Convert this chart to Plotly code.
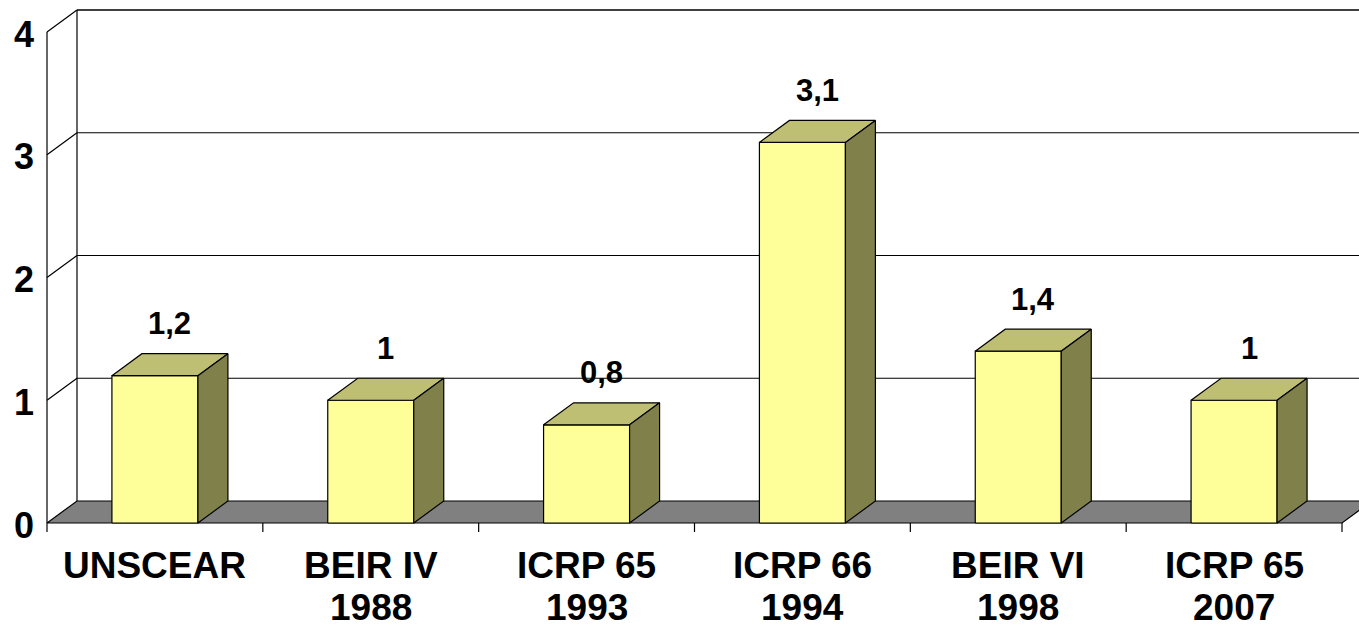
import plotly.graph_objects as go

# Chart data
categories = ["UNSCEAR", "BEIR IV<br>1988", "ICRP 65<br>1993", "ICRP 66<br>1994", "BEIR VI<br>1998", "ICRP 65<br>2007"]
values = [1.2, 1.0, 0.8, 3.1, 1.4, 1.0]
value_labels = ["1,2", "1", "0,8", "3,1", "1,4", "1"]
y_ticks = [0, 1, 2, 3, 4]

# Layout geometry (pixels) used to build the pseudo-3D frame
W, H = 1359, 630
X0_PX, X6_PX = 47, 1342          # front floor edge, left/right
Y0_PX, Y4_PX = 523, 32           # front value 0 / value 4
n = len(categories)
px_x = (X6_PX - X0_PX) / n
px_y = (Y0_PX - Y4_PX) / 4
x_range = [-X0_PX / px_x, (W - X0_PX) / px_x]
y_range = [-(H - Y0_PX) / px_y, Y0_PX / px_y]

DX = 30 / px_x                    # depth offset in x units
DY = 22 / px_y                    # depth offset in y units
HALF = 43 / px_x                  # half bar width
YMAX = max(y_ticks)

FRONT = "#FFFF99"
TOP = "#BFBF73"
SIDE = "#80804A"
FLOOR = "#808080"

fig = go.Figure()


def poly(xs, ys, fill, width=1.2):
    fig.add_trace(go.Scatter(
        x=xs + [xs[0]], y=ys + [ys[0]], mode="lines", fill="toself",
        fillcolor=fill, line=dict(color="black", width=width),
        hoverinfo="skip", showlegend=False))


def line(xs, ys, width=1.2):
    fig.add_trace(go.Scatter(
        x=xs, y=ys, mode="lines", line=dict(color="black", width=width),
        hoverinfo="skip", showlegend=False))


# back wall gridlines and left wall
for k in y_ticks[1:]:
    line([DX, x_range[1] + 1], [k + DY, k + DY], width=1.6 if k == YMAX else 1.2)
    line([0, DX], [k, k + DY])
line([DX, DX], [DY, YMAX + DY])
line([0, 0], [0, YMAX])

# floor
poly([0, n, n + DX, DX], [0, 0, DY, DY], FLOOR)

# category ticks under the floor edge
tick_len = 9 / px_y
for i in range(n + 1):
    line([i, i], [0, -tick_len])

# bars: front face, top and right side
for i, v in enumerate(values):
    xl = i + 0.5 - HALF
    xr = i + 0.5 + HALF
    poly([xl, xr, xr, xl], [0, 0, v, v], FRONT)
    poly([xl, xr, xr + DX, xl + DX], [v, v, v + DY, v + DY], TOP)
    poly([xr, xr + DX, xr + DX, xr], [0, DY, v + DY, v], SIDE)

annotations = []
# value labels above each bar
for i, (v, lab) in enumerate(zip(values, value_labels)):
    annotations.append(dict(
        x=i + 0.5 + DX / 2, y=v + DY, text=lab, showarrow=False,
        xanchor="center", yanchor="middle", yshift=30,
        font=dict(family="Liberation Sans", size=31, color="black", weight="bold")))

# value axis labels
for k in y_ticks:
    annotations.append(dict(
        x=0, y=k, text=str(k), showarrow=False, xanchor="right", yanchor="middle",
        xshift=-11, yshift=-2,
        font=dict(family="Liberation Sans", size=36, color="black", weight="bold")))

# category labels (one annotation per text line)
line_shift = [-42, -84]
for i, cat in enumerate(categories):
    for j, part in enumerate(cat.split("<br>")):
        annotations.append(dict(
            x=i + 0.5, y=0, text=part, showarrow=False, xanchor="center",
            yanchor="middle", yshift=line_shift[j],
            font=dict(family="Liberation Sans", size=37, color="black", weight="bold")))

fig.update_layout(
    width=W, height=H,
    margin=dict(l=0, r=0, t=0, b=0),
    paper_bgcolor="white", plot_bgcolor="white",
    xaxis=dict(range=x_range, visible=False, fixedrange=True),
    yaxis=dict(range=y_range, visible=False, fixedrange=True),
    showlegend=False,
    annotations=annotations,
)

fig.write_html("out.html")
